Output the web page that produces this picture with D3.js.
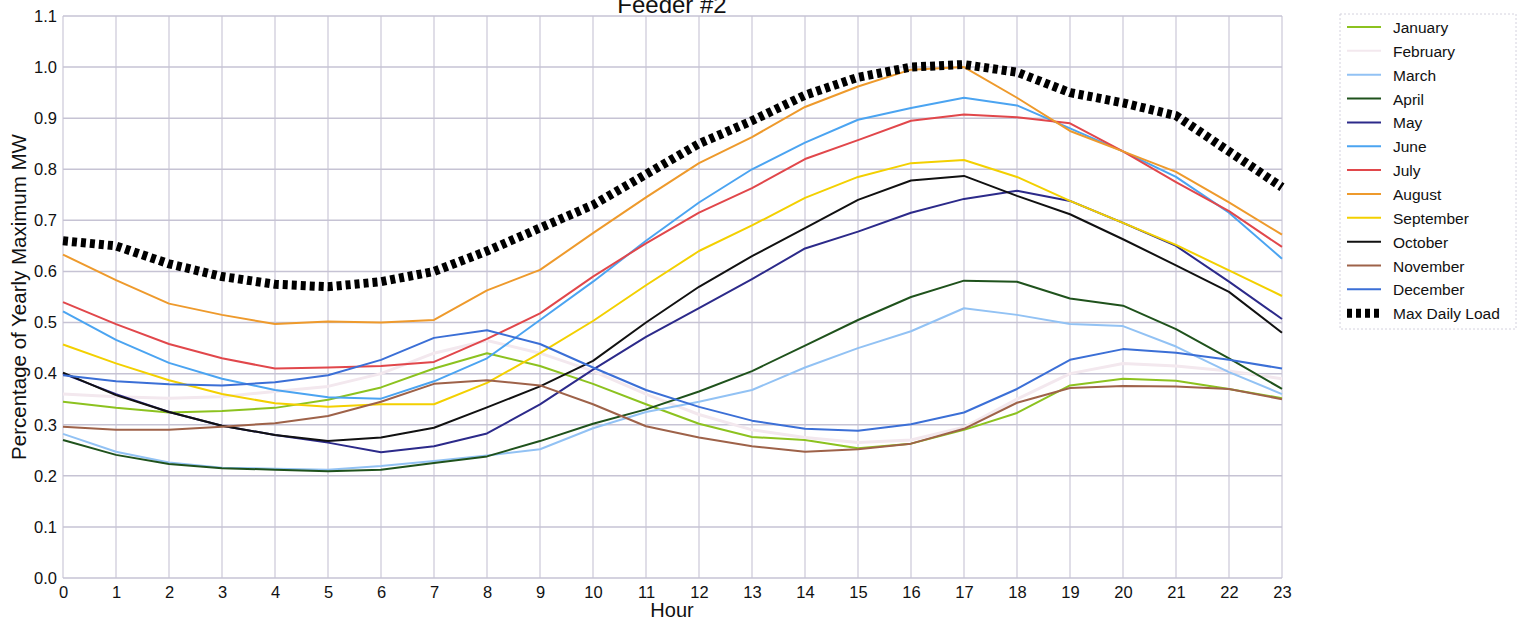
<!DOCTYPE html>
<html>
<head>
<meta charset="utf-8">
<script src="https://cdn.jsdelivr.net/npm/d3@7"></script>
<style>
  body { margin: 0; background: #fff; }
  svg { font-family: "Liberation Sans", Arial, sans-serif; }
</style>
</head>
<body>
<div id="chart"></div>
<script>
// Hours on the x axis
const hours = d3.range(0, 24);

// Monthly load profiles (fraction of yearly maximum MW)
const january   = [0.345, 0.333, 0.324, 0.327, 0.333, 0.349, 0.373, 0.410, 0.440, 0.415, 0.380, 0.340, 0.302, 0.276, 0.270, 0.254, 0.263, 0.290, 0.323, 0.377, 0.390, 0.386, 0.370, 0.352];
const february  = [0.360, 0.355, 0.352, 0.355, 0.365, 0.375, 0.400, 0.440, 0.465, 0.440, 0.405, 0.360, 0.320, 0.290, 0.275, 0.265, 0.270, 0.295, 0.350, 0.400, 0.420, 0.415, 0.405, 0.390];
const march     = [0.282, 0.247, 0.226, 0.216, 0.214, 0.212, 0.219, 0.229, 0.240, 0.252, 0.293, 0.325, 0.345, 0.368, 0.412, 0.450, 0.483, 0.528, 0.515, 0.497, 0.493, 0.453, 0.403, 0.360];
const april     = [0.270, 0.241, 0.223, 0.215, 0.212, 0.209, 0.212, 0.225, 0.238, 0.268, 0.302, 0.330, 0.365, 0.405, 0.455, 0.505, 0.550, 0.582, 0.580, 0.547, 0.533, 0.487, 0.430, 0.370];
const may       = [0.400, 0.360, 0.325, 0.298, 0.280, 0.265, 0.246, 0.258, 0.283, 0.340, 0.408, 0.472, 0.528, 0.585, 0.645, 0.678, 0.715, 0.742, 0.758, 0.738, 0.695, 0.650, 0.580, 0.507];
const june      = [0.522, 0.466, 0.421, 0.390, 0.368, 0.354, 0.351, 0.385, 0.430, 0.505, 0.580, 0.660, 0.735, 0.800, 0.852, 0.897, 0.920, 0.940, 0.925, 0.880, 0.835, 0.785, 0.715, 0.625];
const july      = [0.540, 0.497, 0.458, 0.430, 0.410, 0.412, 0.415, 0.423, 0.468, 0.518, 0.590, 0.655, 0.715, 0.763, 0.820, 0.857, 0.895, 0.907, 0.902, 0.890, 0.835, 0.775, 0.718, 0.648];
const august    = [0.633, 0.583, 0.537, 0.515, 0.497, 0.502, 0.500, 0.505, 0.563, 0.603, 0.675, 0.745, 0.812, 0.863, 0.922, 0.962, 0.995, 1.000, 0.940, 0.875, 0.835, 0.795, 0.735, 0.672];
const september = [0.457, 0.420, 0.387, 0.360, 0.342, 0.335, 0.340, 0.340, 0.382, 0.440, 0.503, 0.573, 0.640, 0.690, 0.744, 0.785, 0.812, 0.818, 0.785, 0.738, 0.695, 0.652, 0.602, 0.552];
const october   = [0.402, 0.358, 0.325, 0.298, 0.280, 0.268, 0.275, 0.294, 0.334, 0.375, 0.425, 0.500, 0.570, 0.630, 0.685, 0.740, 0.778, 0.787, 0.748, 0.712, 0.663, 0.612, 0.560, 0.480];
const november  = [0.296, 0.290, 0.290, 0.296, 0.303, 0.317, 0.345, 0.380, 0.387, 0.377, 0.340, 0.297, 0.275, 0.258, 0.247, 0.252, 0.263, 0.292, 0.343, 0.372, 0.376, 0.375, 0.370, 0.350];
const december  = [0.397, 0.385, 0.379, 0.377, 0.383, 0.397, 0.427, 0.470, 0.485, 0.458, 0.412, 0.368, 0.335, 0.308, 0.292, 0.288, 0.301, 0.324, 0.370, 0.427, 0.448, 0.441, 0.427, 0.410];
const maxDaily  = [0.660, 0.650, 0.615, 0.590, 0.575, 0.570, 0.580, 0.600, 0.640, 0.685, 0.730, 0.790, 0.850, 0.895, 0.945, 0.980, 1.000, 1.005, 0.990, 0.950, 0.930, 0.905, 0.835, 0.765];

const seriesNames = ['January', 'February', 'March', 'April', 'May', 'June', 'July',
  'August', 'September', 'October', 'November', 'December', 'Max Daily Load'];
const seriesValues = [january, february, march, april, may, june, july,
  august, september, october, november, december, maxDaily];

// y ticks 0.0 .. 1.1
const yTicks = d3.range(0, 12).map(i => i / 10);

// Line colours per month
const colors = {
  'January': '#8cc21f',
  'February': '#f3e8ee',
  'March': '#92c2f4',
  'April': '#1f521c',
  'May': '#2c2a8a',
  'June': '#4ba4f1',
  'July': '#e1474b',
  'August': '#ee9a2c',
  'September': '#f3d000',
  'October': '#111111',
  'November': '#9e6249',
  'December': '#3b6fd6',
  'Max Daily Load': '#000000'
};

const width = 1530, height = 626;
const margin = { top: 16, right: 248, bottom: 48, left: 63 };

const svg = d3.select('#chart')
  .append('svg')
  .attr('width', width)
  .attr('height', height);

const x = d3.scaleLinear()
  .domain([0, 23])
  .range([margin.left, width - margin.right]);

const y = d3.scaleLinear()
  .domain([0, 1.1])
  .range([height - margin.bottom, margin.top]);

// Grid lines
const grid = svg.append('g').attr('class', 'grid');
grid.selectAll('.vgrid')
  .data(hours)
  .enter()
  .append('line')
  .attr('x1', d => x(d))
  .attr('x2', d => x(d))
  .attr('y1', y(0))
  .attr('y2', y(1.1))
  .attr('stroke', '#cbc8d8')
  .attr('stroke-width', 1.2);

grid.selectAll('.hgrid')
  .data(yTicks)
  .enter()
  .append('line')
  .attr('x1', x(0))
  .attr('x2', x(23))
  .attr('y1', d => y(d))
  .attr('y2', d => y(d))
  .attr('stroke', '#c6c3d4')
  .attr('stroke-width', 1.5);

// Axes
const xAxis = svg.append('g')
  .attr('transform', `translate(0,${y(0)})`)
  .call(d3.axisBottom(x).tickValues(hours).tickFormat(d3.format('d')).tickSize(0).tickPadding(8));

const yAxis = svg.append('g')
  .attr('transform', `translate(${x(0)},0)`)
  .call(d3.axisLeft(y).tickValues(yTicks).tickFormat(d3.format('.1f')).tickSize(0).tickPadding(6));

[xAxis, yAxis].forEach(a => {
  a.select('.domain').remove();
  a.selectAll('text')
    .attr('font-size', 16.5)
    .attr('font-family', '"Liberation Sans", Arial, sans-serif')
    .attr('fill', '#111');
});

// Series lines
const line = d3.line()
  .x((d, i) => x(hours[i]))
  .y(d => y(d));

const linesGroup = svg.append('g').attr('class', 'lines');
seriesNames.forEach((name, k) => {
  const isMax = name === 'Max Daily Load';
  linesGroup.append('path')
    .datum(seriesValues[k])
    .attr('d', line)
    .attr('fill', 'none')
    .attr('stroke', colors[name])
    .attr('stroke-width', isMax ? 9 : (name === 'February' ? 3 : 2))
    .attr('stroke-dasharray', isMax ? '5,4' : null)
    .attr('stroke-linejoin', 'round');
});

// Title, partly clipped at the top like the original
svg.append('text')
  .attr('x', 672)
  .attr('y', 13)
  .attr('text-anchor', 'middle')
  .attr('font-size', 24)
  .attr('fill', '#111')
  .text('Feeder #2');

// Axis labels
svg.append('text')
  .attr('x', 672)
  .attr('y', 617)
  .attr('text-anchor', 'middle')
  .attr('font-size', 20)
  .attr('fill', '#111')
  .text('Hour');

svg.append('text')
  .attr('transform', `translate(26,${(y(0) + y(1.1)) / 2}) rotate(-90)`)
  .attr('text-anchor', 'middle')
  .attr('font-size', 20.5)
  .attr('fill', '#111')
  .text('Percentage of Yearly Maximum MW');

// Legend
const legend = svg.append('g').attr('transform', 'translate(1340,14)');
legend.append('rect')
  .attr('x', 0)
  .attr('y', 0)
  .attr('width', 176)
  .attr('height', 315)
  .attr('fill', '#fff')
  .attr('stroke', '#d4d2de')
  .attr('stroke-dasharray', '2,2');

seriesNames.forEach((name, k) => {
  const ly = 13 + k * 23.85;
  const isMax = name === 'Max Daily Load';
  legend.append('line')
    .attr('x1', 7)
    .attr('x2', 41)
    .attr('y1', ly)
    .attr('y2', ly)
    .attr('stroke', colors[name])
    .attr('stroke-width', isMax ? 9 : 2)
    .attr('stroke-dasharray', isMax ? '5,4' : null);
  legend.append('text')
    .attr('x', 53)
    .attr('y', ly + 6)
    .attr('font-size', 15.5)
    .attr('fill', '#111')
    .text(name);
});
</script>
</body>
</html>
